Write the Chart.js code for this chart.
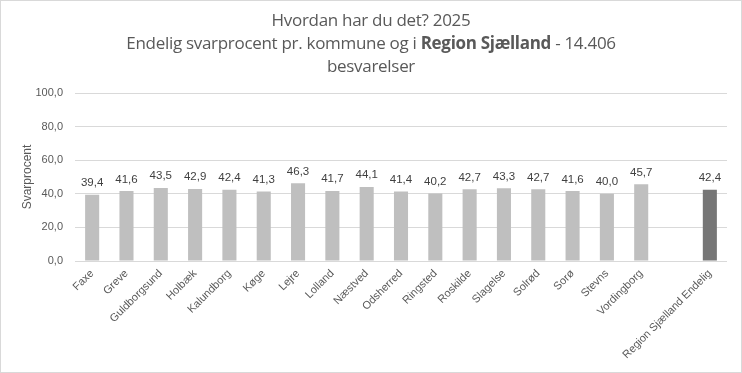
<!DOCTYPE html>
<html>
<head>
<meta charset="utf-8">
<script src="https://cdn.jsdelivr.net/npm/chart.js@4.4.0/dist/chart.umd.min.js"></script>
<style>
  html, body { margin: 0; padding: 0; background: #fff; }
  #wrap { position: relative; width: 742px; height: 373px; overflow: hidden; }
  #c { position: absolute; left: 0; top: 0; }
  .t { position: absolute; left: 0; width: 742px; text-align: center; color: #595959;
       font-family: "Open Sans", sans-serif; font-size: 17px; line-height: 22px; white-space: nowrap; letter-spacing: -0.3px; }
  .t b { font-weight: bold; }
</style>
</head>
<body>
<div id="wrap">
  <canvas id="c" width="742" height="373"></canvas>
  <div class="t" style="top:9px">Hvordan har du det? 2025</div>
  <div class="t" style="top:32px">Endelig svarprocent pr. kommune og i <b>Region Sjælland</b> - 14.406</div>
  <div class="t" style="top:55px">besvarelser</div>
</div>
<script>
const categories = ["Faxe","Greve","Guldborgsund","Holbæk","Kalundborg","Køge","Lejre","Lolland","Næstved","Odsherred","Ringsted","Roskilde","Slagelse","Solrød","Sorø","Stevns","Vordingborg","","Region Sjælland Endelig"];
const svarprocent = [39.4,41.6,43.5,42.9,42.4,41.3,46.3,41.7,44.1,41.4,40.2,42.7,43.3,42.7,41.6,40.0,45.7,null,42.4];
const yTicks = [0,20,40,60,80,100];

const fmt = v => v.toFixed(1).replace('.', ',');
const barColors = categories.map(c => c.startsWith("Region") ? "#767676" : "#bfbfbf");

const frame = {
  id: 'frame',
  beforeDraw(chart) {
    const ctx = chart.ctx;
    ctx.save();
    ctx.fillStyle = '#fff';
    ctx.fillRect(0, 0, chart.width, chart.height);
    ctx.restore();
  },
  afterDraw(chart) {
    const ctx = chart.ctx;
    ctx.save();
    ctx.strokeStyle = '#d9d9d9';
    ctx.lineWidth = 1;
    ctx.strokeRect(0.5, 0.5, chart.width - 1, chart.height - 1);
    ctx.restore();
  }
};

const valueLabels = {
  id: 'valueLabels',
  afterDatasetsDraw(chart) {
    const ctx = chart.ctx;
    const meta = chart.getDatasetMeta(0);
    ctx.save();
    ctx.font = '11.5px "Liberation Sans", Arial, sans-serif';
    ctx.fillStyle = '#404040';
    ctx.textAlign = 'center';
    ctx.textBaseline = 'bottom';
    meta.data.forEach((bar, i) => {
      const v = svarprocent[i];
      if (v === null || v === undefined) return;
      ctx.fillText(fmt(v), bar.x, bar.y - 6);
    });
    ctx.restore();
  }
};

new Chart(document.getElementById('c'), {
  type: 'bar',
  data: {
    labels: categories,
    datasets: [{
      data: svarprocent,
      backgroundColor: barColors,
      barPercentage: 0.41,
      categoryPercentage: 1.0
    }]
  },
  options: {
    responsive: false,
    animation: false,
    layout: { padding: { top: 93, right: 15, left: 0, bottom: 0 } },
    plugins: { legend: { display: false }, tooltip: { enabled: false } },
    scales: {
      x: {
        grid: { display: false, drawTicks: false },
        border: { display: false },
        ticks: {
          color: '#595959',
          font: { family: '"Liberation Sans", Arial, sans-serif', size: 11 },
          minRotation: 45, maxRotation: 45, autoSkip: false, padding: 6
        },
        afterFit(s) { s.height = 112; }
      },
      y: {
        min: 0, max: 100,
        afterBuildTicks(s) { s.ticks = yTicks.map(v => ({ value: v })); },
        grid: { color: '#d9d9d9', drawTicks: false },
        border: { display: false },
        ticks: {
          color: '#595959',
          font: { family: '"Liberation Sans", Arial, sans-serif', size: 11 },
          padding: 12,
          callback: v => fmt(v)
        },
        title: {
          display: true, text: 'Svarprocent', color: '#595959',
          font: { family: '"Liberation Sans", Arial, sans-serif', size: 12 },
          padding: { top: 20, bottom: 0 }
        },
        afterFit(s) { s.width = 75; }
      }
    }
  },
  plugins: [frame, valueLabels]
});
</script>
</body>
</html>
